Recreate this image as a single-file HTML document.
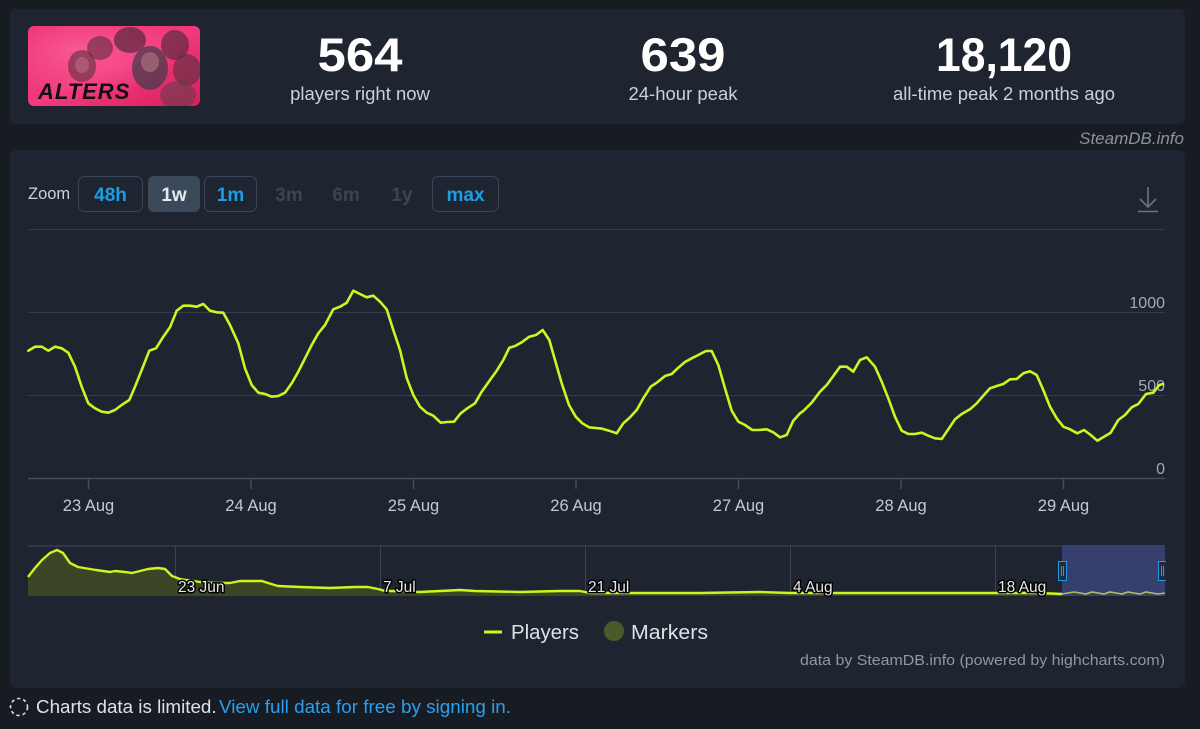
<!DOCTYPE html>
<html><head><meta charset="utf-8"><style>
html,body{margin:0;padding:0;background:#171c23;width:1200px;height:729px;overflow:hidden}
svg{display:block}
text{font-family:"Liberation Sans",sans-serif}
</style></head><body>
<svg width="1200" height="729" viewBox="0 0 1200 729" xmlns="http://www.w3.org/2000/svg">
<defs>
<linearGradient id="pk" x1="0" y1="0" x2="1" y2="1">
<stop offset="0" stop-color="#e8246a"/><stop offset="0.5" stop-color="#f23a7c"/><stop offset="1" stop-color="#d81e5e"/>
</linearGradient>
<radialGradient id="glow" cx="0.3" cy="0.3" r="0.6"><stop offset="0" stop-color="#ff6aa0" stop-opacity="0.7"/><stop offset="1" stop-color="#ff6aa0" stop-opacity="0"/></radialGradient>
<clipPath id="imgclip"><rect x="28" y="26" width="172" height="80" rx="6"/></clipPath>
</defs>
<rect x="0" y="0" width="1200" height="729" fill="#171c23"/>
<!-- top panel -->
<rect x="10" y="9" width="1175" height="115" rx="6" fill="#1f2530"/>
<g clip-path="url(#imgclip)">
<rect x="28" y="26" width="172" height="80" fill="url(#pk)"/>
<rect x="28" y="26" width="172" height="80" fill="url(#glow)"/>
<ellipse cx="82" cy="66" rx="14" ry="16" fill="#5a3040" opacity="0.6"/>
<ellipse cx="100" cy="48" rx="13" ry="12" fill="#4a2a38" opacity="0.55"/>
<ellipse cx="130" cy="40" rx="16" ry="13" fill="#3c2530" opacity="0.6"/>
<ellipse cx="150" cy="68" rx="18" ry="22" fill="#3a3a48" opacity="0.7"/>
<ellipse cx="175" cy="45" rx="14" ry="15" fill="#452835" opacity="0.6"/>
<ellipse cx="187" cy="70" rx="14" ry="16" fill="#50303c" opacity="0.6"/>
<ellipse cx="178" cy="95" rx="18" ry="14" fill="#5a4048" opacity="0.55"/>
<ellipse cx="150" cy="62" rx="9" ry="10" fill="#b07880" opacity="0.6"/>
<ellipse cx="82" cy="65" rx="7" ry="8" fill="#c07882" opacity="0.5"/>
<text x="38" y="99" font-size="22" font-weight="bold" font-style="italic" fill="#111" letter-spacing="1">ALTERS</text>
</g>
<text x="360" y="71" font-size="47" font-weight="bold" fill="#ffffff" text-anchor="middle" textLength="85" lengthAdjust="spacingAndGlyphs">564</text>
<text x="360" y="100" font-size="18.5" fill="#c9d1d9" text-anchor="middle">players right now</text>
<text x="683" y="71" font-size="47" font-weight="bold" fill="#ffffff" text-anchor="middle" textLength="85" lengthAdjust="spacingAndGlyphs">639</text>
<text x="683" y="100" font-size="18.5" fill="#c9d1d9" text-anchor="middle">24-hour peak</text>
<text x="1004" y="71" font-size="47" font-weight="bold" fill="#ffffff" text-anchor="middle" textLength="136" lengthAdjust="spacingAndGlyphs">18,120</text>
<text x="1004" y="100" font-size="18.5" fill="#c9d1d9" text-anchor="middle">all-time peak 2 months ago</text>
<text x="1184" y="144" font-size="17" font-style="italic" fill="#8c939b" text-anchor="end">SteamDB.info</text>
<!-- chart panel -->
<rect x="10" y="150" width="1175" height="538" rx="6" fill="#1f2530"/>
<text x="28" y="199" font-size="16.5" fill="#c8d2dc">Zoom</text>
<rect x="78.5" y="176.5" width="64" height="35" rx="6" fill="none" stroke="#38445a"/>
<text x="110.5" y="201" font-size="19" font-weight="bold" fill="#1e9de6" text-anchor="middle">48h</text>
<rect x="148" y="176" width="52" height="36" rx="6" fill="#3c495b"/>
<text x="174" y="201" font-size="19" font-weight="bold" fill="#e6eaee" text-anchor="middle">1w</text>
<rect x="204.5" y="176.5" width="52" height="35" rx="6" fill="none" stroke="#38445a"/>
<text x="230.5" y="201" font-size="19" font-weight="bold" fill="#1e9de6" text-anchor="middle">1m</text>
<text x="289" y="201" font-size="19" font-weight="bold" fill="#3a4554" text-anchor="middle">3m</text>
<text x="346" y="201" font-size="19" font-weight="bold" fill="#3a4554" text-anchor="middle">6m</text>
<text x="402" y="201" font-size="19" font-weight="bold" fill="#3a4554" text-anchor="middle">1y</text>
<rect x="432.5" y="176.5" width="66" height="35" rx="6" fill="none" stroke="#38445a"/>
<text x="465.5" y="201" font-size="19" font-weight="bold" fill="#1e9de6" text-anchor="middle">max</text>
<!-- download icon -->
<g stroke="#6c7683" stroke-width="1.6" fill="none">
<line x1="1148" y1="187" x2="1148" y2="207"/>
<polyline points="1140,199 1148,207 1156,199"/>
<line x1="1138" y1="211.5" x2="1158" y2="211.5"/>
</g>
<!-- gridlines -->
<g stroke="#363e4b" stroke-width="1">
<line x1="28" y1="229.5" x2="1165" y2="229.5"/>
<line x1="28" y1="312.5" x2="1165" y2="312.5"/>
<line x1="28" y1="395.5" x2="1165" y2="395.5"/>
</g>
<line x1="28" y1="478.5" x2="1165" y2="478.5" stroke="#434d5c" stroke-width="1.5"/>
<g stroke="#434d5c" stroke-width="1.5">
<line x1="88.5" y1="478" x2="88.5" y2="489"/>
<line x1="251" y1="478" x2="251" y2="489"/>
<line x1="413.5" y1="478" x2="413.5" y2="489"/>
<line x1="576" y1="478" x2="576" y2="489"/>
<line x1="738.5" y1="478" x2="738.5" y2="489"/>
<line x1="901" y1="478" x2="901" y2="489"/>
<line x1="1063.5" y1="478" x2="1063.5" y2="489"/>
</g>
<g font-size="16" fill="#a3aab2" text-anchor="end">
<text x="1165" y="308">1000</text>
<text x="1165" y="391">500</text>
<text x="1165" y="474">0</text>
</g>
<g font-size="16.5" fill="#c5cad0" text-anchor="middle">
<text x="88.5" y="511">23 Aug</text>
<text x="251" y="511">24 Aug</text>
<text x="413.5" y="511">25 Aug</text>
<text x="576" y="511">26 Aug</text>
<text x="738.5" y="511">27 Aug</text>
<text x="901" y="511">28 Aug</text>
<text x="1063.5" y="511">29 Aug</text>
</g>
<!-- main series -->
<polyline fill="none" stroke="#cdf51f" stroke-width="2.6" stroke-linejoin="round" stroke-linecap="round" points="
28.3,350.7 35,346.7 41.7,346.7 48.3,350.7 55,346.7 61.7,348.3 68.3,352.7 75,366.7 81.7,386.7 88.3,403.3 95,408.3 101.7,411.7 108.3,412.7 115,410 121.7,405 129.3,400 135,386.7 141.7,370 149.3,350.7 156,348.3 163.3,336.7 170,327.3 176.7,310.7 183.3,305.7 190,305.7 196.7,306.7 203.3,304 210,310.7 216.7,312.3 223.3,312.7 230,325 238.3,343.3 245,368.3 251.7,385 258.3,392.7 265,394 271.7,396.7 278.3,396 285,392.7 291.7,383.3 298.3,371.7 305,358.3 311.7,345 318.3,333.3 325,325 333.3,309.3 340,306.7 346.7,302.7 353.3,290.7 360,294 366.7,297.3 373.3,295.7 380,301.7 386.7,309.3 393.3,330 400,350 406.7,378 413.3,395 420,406.7 426.7,412.7 433.3,415.7 440.7,422.7 447.3,422 454,421.7 460.7,413.3 467.3,408.3 475,403.3 481.7,391.7 490,380 496.7,370.7 503.3,360 509.3,347.7 515,346 521.7,342.3 529.3,336.7 536,335 542.7,330 549.3,340 555,360 561.7,383.3 569,405 575.7,416.7 582.3,423.3 589,427.3 595.7,428 602.3,428.7 609,430.7 616.7,433.3 623.3,423.3 630,417.3 636.7,410 643.3,398.3 650.7,386.7 657.3,382.3 665,376 671.7,374 678.3,367.7 685,362 691.7,358.3 698.3,355 706,351 711.7,351 718.3,365 725,388.3 731.7,410.7 738.3,421.7 745,425 752.3,430 759,430 766.7,429.3 773.3,432.3 780,437.3 786.7,435 793.3,420.7 800,413.3 803.3,411 811.7,402.7 820,391.7 826.7,385 833.3,376 840,366.7 846.7,366.7 853.3,371.7 860,360 866.7,357.3 875,366.7 881.7,381.7 888.3,398.3 895,416.7 901.7,430.7 908.3,434 915,434 921.7,432.7 928.3,435.7 935,438.3 941.7,439 948.3,429.3 955,419.3 961.7,414 970,409.3 976.7,403.3 983.3,395.7 990,388.3 996.7,386 1003.3,384 1010,379.3 1016.7,379 1023.3,373.3 1030,371.3 1036.7,375 1043.3,390 1050,406.7 1056.7,418.3 1063.3,426.7 1070,429.3 1077.3,433.3 1084,430 1090.7,435 1097.3,440.7 1104,436.7 1110.7,432.7 1118.3,420 1125,415 1131.7,407.3 1138.3,404 1146,394 1153.3,392.7 1159.3,385 1163,384"/>
<!-- navigator -->
<line x1="28" y1="546" x2="1165" y2="546" stroke="#3a4452" stroke-width="1.2"/>
<g stroke="#3a4452" stroke-width="1">
<line x1="175.5" y1="546" x2="175.5" y2="596"/>
<line x1="380.5" y1="546" x2="380.5" y2="596"/>
<line x1="585.5" y1="546" x2="585.5" y2="596"/>
<line x1="790.5" y1="546" x2="790.5" y2="596"/>
<line x1="995.5" y1="546" x2="995.5" y2="596"/>
</g>
<path fill="#3c4526" d="M28,596 L28,577 L35,568 L42,560 L50,553 L57,550 L63,553 L70,563 L78,567 L96,570 L110,572 L115,571 L125,572 L132,573 L140,571 L148,569 L158,568 L165,569 L172,576 L180,579 L200,582 L215,583 L230,583 L240,581 L262,581 L268,583 L278,586 L300,587 L330,588 L355,587 L368,587 L378,589 L385,591 L400,591 L420,592 L440,591 L460,590 L475,591 L520,592 L560,591 L580,591 L590,593 L640,593 L700,593 L760,592 L790,593 L850,593 L900,593 L960,593 L1000,593 L1040,593 L1062,594 L1062,596 Z"/>
<polyline fill="none" stroke="#cdf51f" stroke-width="2.4" stroke-linejoin="round" points="28,577 35,568 42,560 50,553 57,550 63,553 70,563 78,567 96,570 110,572 115,571 125,572 132,573 140,571 148,569 158,568 165,569 172,576 180,579 200,582 215,583 230,583 240,581 262,581 268,583 278,586 300,587 330,588 355,587 368,587 378,589 385,591 400,591 420,592 440,591 460,590 475,591 520,592 560,591 580,591 590,593 640,593 700,593 760,592 790,593 850,593 900,593 960,593 1000,593 1040,593 1062,594"/>
<g font-size="15.5" fill="#e8e8e8" stroke="#000" stroke-width="3" paint-order="stroke" stroke-linejoin="round">
<text x="178" y="592">23 Jun</text>
<text x="383" y="592">7 Jul</text>
<text x="588" y="592">21 Jul</text>
<text x="793" y="592">4 Aug</text>
<text x="998" y="592">18 Aug</text>
</g>
<rect x="1062" y="545" width="103" height="51" fill="#363f6e"/>
<polyline fill="none" stroke="#a9c45a" stroke-width="1.6" points="1062,594 1068,593 1074,592 1080,593 1086,594 1092,592 1098,593 1104,594 1110,592 1116,593 1122,594 1128,592 1134,593 1140,594 1146,592 1152,593 1158,594 1165,593"/>
<rect x="1058.5" y="561.5" width="8" height="19" fill="#1f2b3b" stroke="#1a9fe6" stroke-width="1"/>
<line x1="1061.5" y1="566" x2="1061.5" y2="576" stroke="#1a9fe6"/>
<line x1="1063.5" y1="566" x2="1063.5" y2="576" stroke="#1a9fe6"/>
<rect x="1158.5" y="561.5" width="8" height="19" fill="#1f2b3b" stroke="#1a9fe6" stroke-width="1"/>
<line x1="1161.5" y1="566" x2="1161.5" y2="576" stroke="#1a9fe6"/>
<line x1="1163.5" y1="566" x2="1163.5" y2="576" stroke="#1a9fe6"/>
<rect x="1166" y="540" width="19" height="62" fill="#1f2530"/>
<!-- legend -->
<line x1="484" y1="632" x2="502" y2="632" stroke="#cdf51f" stroke-width="3"/>
<text x="511" y="639" font-size="20" fill="#dde2e6" textLength="68" lengthAdjust="spacingAndGlyphs">Players</text>
<circle cx="614" cy="631" r="10" fill="#4b5a2b"/>
<text x="631" y="639" font-size="20" fill="#dde2e6" textLength="77" lengthAdjust="spacingAndGlyphs">Markers</text>
<text x="1165" y="665" font-size="15" fill="#8f979f" text-anchor="end" textLength="365" lengthAdjust="spacingAndGlyphs">data by SteamDB.info (powered by highcharts.com)</text>
<!-- footer -->
<circle cx="19" cy="707" r="8.5" fill="none" stroke="#d8dde2" stroke-width="1.6" stroke-dasharray="3.3 3"/>
<text x="36" y="713" font-size="18.8" fill="#dde2e6">Charts data is limited.</text>
<text x="219" y="713" font-size="18.8" fill="#2b9ef0" textLength="292" lengthAdjust="spacingAndGlyphs">View full data for free by signing in.</text>
</svg>
</body></html>
